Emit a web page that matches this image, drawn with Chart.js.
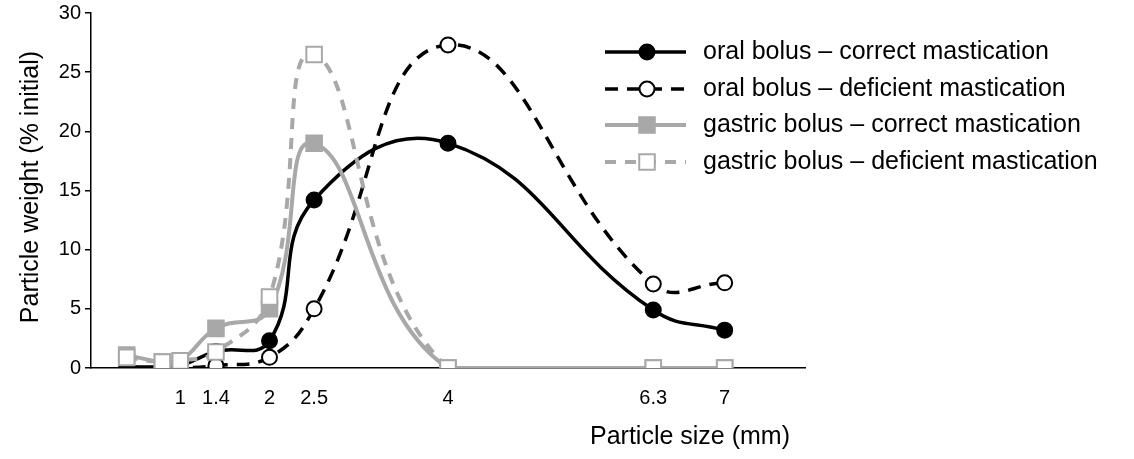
<!DOCTYPE html>
<html>
<head>
<meta charset="utf-8">
<script src="https://cdn.jsdelivr.net/npm/chart.js@4/dist/chart.umd.min.js"></script>
<style>
    html, body { margin: 0; padding: 0; background: #fff; }
    #wrap { width: 1134px; height: 459px; }
</style>
</head>
<body>
<div id="wrap"><canvas id="particleChart" width="1134" height="459"></canvas></div>
<script>
// particle sizes (mm) on the x axis
const sizes = [0.4, 0.8, 1, 1.4, 2, 2.5, 4, 6.3, 7.1];
const tickValues = [1, 1.4, 2, 2.5, 4, 6.3, 7.1];
const tickLabels = ['1', '1.4', '2', '2.5', '4', '6.3', '7'];

// particle weight (% initial)
const oralCorrect = [0.1, 0.1, 0.2, 1.4, 2.3, 14.2, 19.0, 4.9, 3.2];
const oralDeficient = [0, 0, 0, 0.2, 0.9, 5.0, 27.3, 7.1, 7.2];
const gastricCorrect = [1.1, 0.5, 0.6, 3.35, 5.0, 19.0, 0, 0, 0];
const gastricDeficient = [0.9, 0.5, 0.6, 1.35, 6.0, 26.5, 0, 0, 0];

const seriesNames = [
    'oral bolus \u2013 correct mastication',
    'oral bolus \u2013 deficient mastication',
    'gastric bolus \u2013 correct mastication',
    'gastric bolus \u2013 deficient mastication'
];

const FONT = 'Arial, "Liberation Sans", sans-serif';
const GRAY = '#a8a8a8';

function toPoints(values) {
    return values.map((v, i) => ({ x: sizes[i], y: v }));
}

// legend drawn over the plot, top right
const sideLegend = {
    id: 'sideLegend',
    afterDraw(chart) {
        const ctx = chart.ctx;
        const rows = [52, 89, 125, 162];
        ctx.save();
        chart.data.datasets.forEach((ds, i) => {
            const y = rows[i];
            ctx.strokeStyle = ds.borderColor;
            ctx.lineWidth = ds.borderWidth;
            ctx.setLineDash(ds.borderDash || []);
            ctx.beginPath();
            ctx.moveTo(605, y);
            ctx.lineTo(686, y);
            ctx.stroke();
            ctx.setLineDash([]);
            ctx.lineWidth = ds.pointBorderWidth;
            ctx.strokeStyle = ds.pointBorderColor;
            ctx.fillStyle = ds.pointBackgroundColor;
            ctx.beginPath();
            if (ds.pointStyle === 'rect') {
                const s = ds.pointRadius * Math.SQRT1_2;
                ctx.rect(647 - s, y - s, 2 * s, 2 * s);
            } else {
                ctx.arc(647, y, ds.pointRadius, 0, Math.PI * 2);
            }
            ctx.fill();
            ctx.stroke();

            ctx.fillStyle = '#000';
            ctx.font = '25px ' + FONT;
            ctx.textAlign = 'left';
            ctx.textBaseline = 'middle';
            ctx.fillText(seriesNames[i], 703, y);
        });
        ctx.restore();
    }
};

// axis titles
const axisTitles = {
    id: 'axisTitles',
    afterDraw(chart) {
        const ctx = chart.ctx;
        ctx.save();
        ctx.fillStyle = '#000';
        ctx.font = '25px ' + FONT;
        ctx.textBaseline = 'middle';
        ctx.textAlign = 'right';
        ctx.fillText('Particle size (mm)', 790, 437);
        ctx.translate(31, 187);
        ctx.rotate(-Math.PI / 2);
        ctx.textAlign = 'center';
        ctx.fillText('Particle weight (% initial)', 0, 0);
        ctx.restore();
    }
};

const ctx = document.getElementById('particleChart').getContext('2d');

new Chart(ctx, {
    type: 'line',
    data: {
        datasets: [
            {
                label: seriesNames[0],
                data: toPoints(oralCorrect),
                borderColor: '#000',
                borderWidth: 3.5,
                pointStyle: 'circle',
                pointRadius: 7.5,
                pointBorderWidth: 2,
                pointBorderColor: '#000',
                pointBackgroundColor: '#000',
                tension: 0.45,
                order: 3
            },
            {
                label: seriesNames[1],
                data: toPoints(oralDeficient),
                borderColor: '#000',
                borderWidth: 3.5,
                borderDash: [13, 9],
                pointStyle: 'circle',
                pointRadius: 7.5,
                pointBorderWidth: 2,
                pointBorderColor: '#000',
                pointBackgroundColor: '#fff',
                tension: 0.45,
                order: 4
            },
            {
                label: seriesNames[2],
                data: toPoints(gastricCorrect),
                borderColor: GRAY,
                borderWidth: 4,
                pointStyle: 'rect',
                pointRadius: 11,
                pointBorderWidth: 2,
                pointBorderColor: GRAY,
                pointBackgroundColor: GRAY,
                tension: 0.45,
                order: 2
            },
            {
                label: seriesNames[3],
                data: toPoints(gastricDeficient),
                borderColor: GRAY,
                borderWidth: 4,
                borderDash: [11, 9],
                pointStyle: 'rect',
                pointRadius: 11,
                pointBorderWidth: 2,
                pointBorderColor: GRAY,
                pointBackgroundColor: '#fff',
                tension: 0.45,
                order: 1
            }
        ]
    },
    options: {
        responsive: false,
        animation: false,
        devicePixelRatio: 1,
        layout: { padding: { left: 0, right: 329, top: 11, bottom: 0 } },
        plugins: {
            legend: { display: false },
            tooltip: { enabled: false }
        },
        scales: {
            x: {
                type: 'linear',
                min: 0,
                max: 8,
                afterBuildTicks: function(scale) {
                    scale.ticks = tickValues.map(v => ({ value: v }));
                },
                afterFit: function(scale) {
                    scale.height = 91;
                    scale.paddingLeft = 0;
                    scale.paddingRight = 0;
                },
                ticks: {
                    autoSkip: false,
                    maxRotation: 0,
                    color: '#000',
                    padding: 18,
                    font: { family: FONT, size: 20 },
                    callback: function(value, index) { return tickLabels[index]; }
                },
                grid: { display: false, drawTicks: false },
                border: { color: '#000', width: 1.5 }
            },
            y: {
                min: 0,
                max: 30,
                afterFit: function(scale) {
                    scale.width = 91;
                    scale.paddingTop = 0;
                    scale.paddingBottom = 0;
                },
                ticks: {
                    stepSize: 5,
                    color: '#000',
                    padding: 4,
                    font: { family: FONT, size: 20 }
                },
                grid: { drawOnChartArea: false, tickLength: 6, color: '#000', lineWidth: 1.5 },
                border: { color: '#000', width: 1.5 }
            }
        }
    },
    plugins: [sideLegend, axisTitles]
});
</script>
</body>
</html>
